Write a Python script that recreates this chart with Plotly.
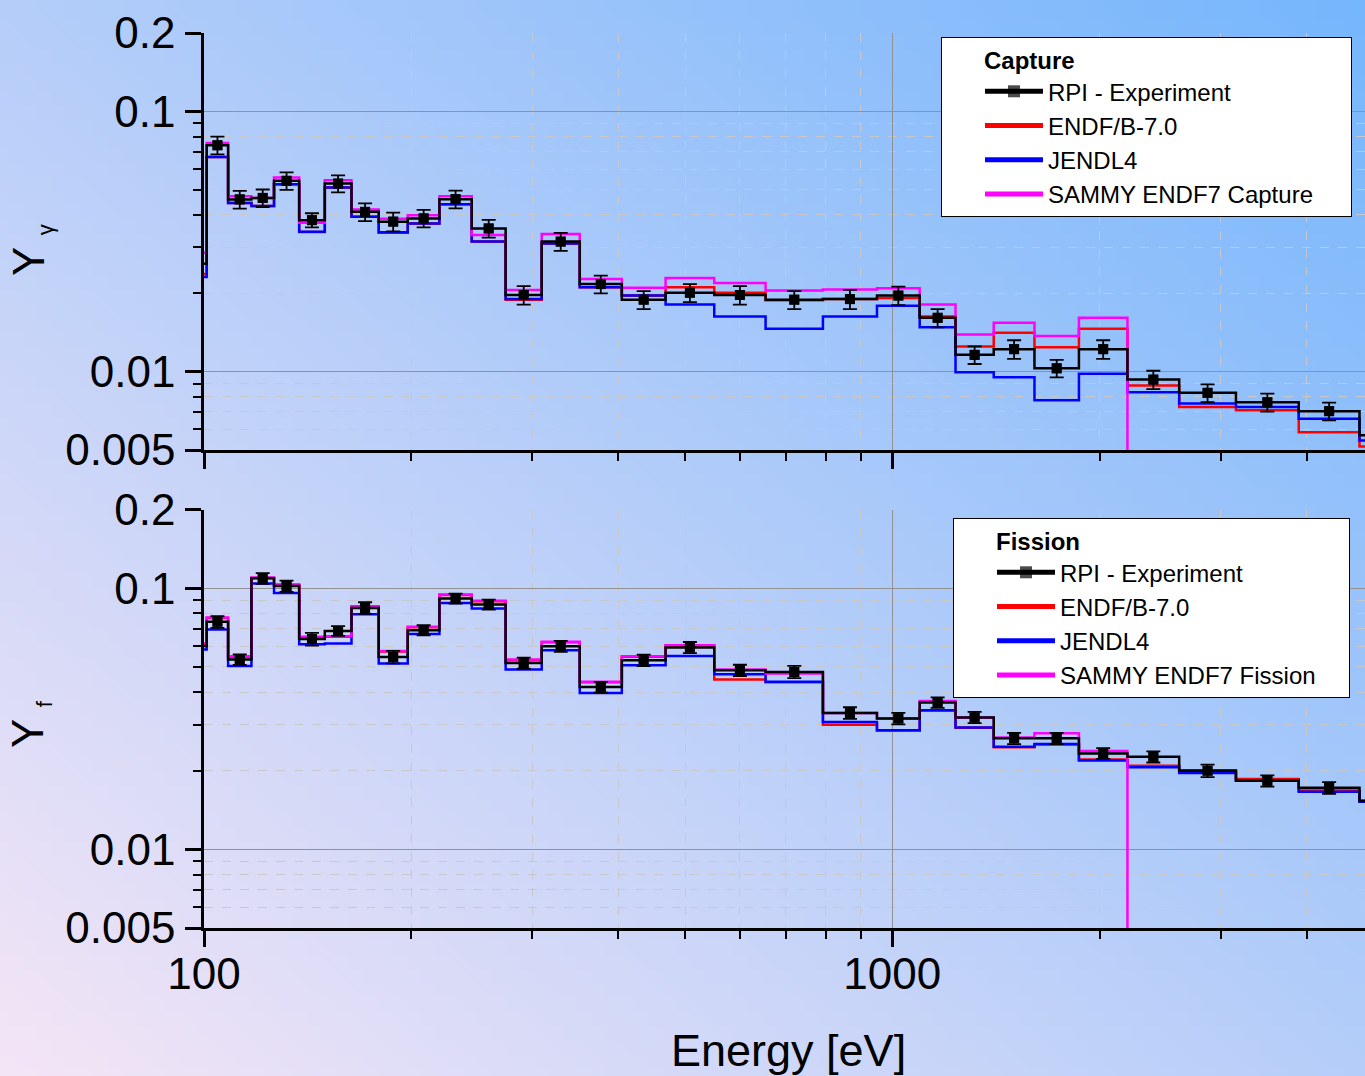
import base64
import math
import struct
import zlib
import plotly.graph_objects as go

# ---------------- data ----------------
# bin edges (eV)
edges = [100, 100.9, 108.4, 117.2, 126.4, 137.5, 149.8, 163.8, 179.4, 197.7, 219.8,
         244.9, 274.3, 309.5, 351.5, 404.6, 468.4, 551.2, 654.5, 792.9, 950.0,
         1096, 1235.5, 1404, 1609, 1867, 2196, 2611, 3157, 3895, 4773, 5800]

# experimental point energies (bin centres, bins 2..30)
exp_E = [104.6, 112.7, 121.7, 131.8, 143.5, 156.6, 171.4, 188.3, 208.5, 232.0,
         259.2, 291.4, 329.8, 377.1, 435.3, 508.1, 600.6, 720.4, 867.9, 1020.4,
         1163.7, 1317.1, 1503.0, 1733.2, 2024.8, 2394.6, 2871.0, 3506.6, 4311.7]

# ---- Capture ----
cap_exp = [0.0741, 0.0459, 0.0465, 0.0541, 0.0382, 0.0528, 0.0411, 0.0377, 0.0388, 0.0460,
           0.0355, 0.0197, 0.0316, 0.0217, 0.0189, 0.0201, 0.0197, 0.0189, 0.0190, 0.0196,
           0.0161, 0.0116, 0.0122, 0.0103, 0.0122, 0.00932, 0.00829, 0.00763, 0.00705]
cap_err = [0.0058, 0.0036, 0.0036, 0.0042, 0.0024, 0.0040, 0.0032, 0.0031, 0.0030, 0.0036,
           0.0028, 0.0016, 0.0025, 0.0017, 0.0015, 0.0016, 0.0016, 0.0015, 0.0016, 0.0016,
           0.0013, 0.0009, 0.0010, 0.0008, 0.0010, 0.00076, 0.00065, 0.00061, 0.00055]
cap_rpi_first = 0.026
cap_rpi_last = 0.0057
cap_endf = [0.0237, 0.0668, 0.0445, 0.0433, 0.0525, 0.0344, 0.0510, 0.0394, 0.0342, 0.0371,
            0.0440, 0.0316, 0.0189, 0.0311, 0.0211, 0.0196, 0.0211, 0.0201, 0.0188, 0.0190,
            0.0192, 0.0163, 0.0125, 0.0141, 0.0124, 0.0146, 0.00884, 0.00732, 0.00711,
            0.00585, 0.00516]
cap_jendl = [0.0231, 0.0668, 0.0445, 0.0433, 0.0525, 0.0345, 0.0510, 0.0394, 0.0343, 0.0371,
             0.0440, 0.0316, 0.0190, 0.0311, 0.0211, 0.0196, 0.0181, 0.0163, 0.0146, 0.0163,
             0.0179, 0.0148, 0.00994, 0.00951, 0.00776, 0.00982, 0.00833, 0.00754, 0.00732,
             0.00659, 0.00544]
cap_sammy = [0.0286, 0.0756, 0.0472, 0.0465, 0.0557, 0.0373, 0.0544, 0.0420, 0.0387, 0.0399,
             0.0472, 0.0335, 0.0206, 0.0338, 0.0227, 0.0210, 0.0229, 0.0219, 0.0205, 0.0207,
             0.0209, 0.0181, 0.0139, 0.0154, 0.0137, 0.0161]

# ---- Fission ----
fis_exp = [0.0743, 0.0533, 0.1090, 0.1018, 0.0638, 0.0686, 0.0840, 0.0545, 0.0690, 0.0913,
           0.0866, 0.0517, 0.0599, 0.0418, 0.0530, 0.0593, 0.0485, 0.0478, 0.0333, 0.0317,
           0.0365, 0.0320, 0.0266, 0.0266, 0.0233, 0.0226, 0.0200, 0.0183, 0.0172]
fis_err = [0.0039, 0.0025, 0.0052, 0.0050, 0.0036, 0.0030, 0.0043, 0.0030, 0.0031, 0.0040,
           0.0038, 0.0025, 0.0029, 0.0020, 0.0027, 0.0029, 0.0024, 0.0026, 0.0017, 0.0016,
           0.0017, 0.0016, 0.0013, 0.0013, 0.0011, 0.0011, 0.0011, 0.0009, 0.0009]
fis_rpi_first = 0.0600
fis_rpi_last = 0.0153
fis_endf = [0.0610, 0.0768, 0.0546, 0.1094, 0.1028, 0.0648, 0.0652, 0.0849, 0.0572, 0.0708,
            0.0941, 0.0890, 0.0530, 0.0620, 0.0436, 0.0546, 0.0602, 0.0447, 0.0436, 0.0300,
            0.0285, 0.0340, 0.0292, 0.0246, 0.0252, 0.0221, 0.0209, 0.0201, 0.0186, 0.0168,
            0.0154]
fis_jendl = [0.0582, 0.0695, 0.0503, 0.1042, 0.0959, 0.0610, 0.0614, 0.0795, 0.0515, 0.0667,
             0.0878, 0.0836, 0.0488, 0.0579, 0.0397, 0.0507, 0.0550, 0.0468, 0.0438, 0.0307,
             0.0286, 0.0341, 0.0293, 0.0247, 0.0253, 0.0219, 0.0206, 0.0196, 0.0184, 0.0166,
             0.0152]
fis_sammy = [0.0614, 0.0772, 0.0549, 0.1099, 0.1033, 0.0651, 0.0655, 0.0853, 0.0575, 0.0711,
             0.0946, 0.0894, 0.0533, 0.0623, 0.0438, 0.0549, 0.0605, 0.0488, 0.0471, 0.0333,
             0.0317, 0.0370, 0.0320, 0.0268, 0.0278, 0.0238]

x_major = [100, 1000]
x_major_text = ["100", "1000"]
x_minor = [200, 300, 400, 500, 600, 700, 800, 900, 2000, 3000, 4000]
y_major = [0.005, 0.01, 0.1, 0.2]
y_major_text = ["0.005", "0.01", "0.1", "0.2"]
y_minor = [0.006, 0.007, 0.008, 0.009, 0.02, 0.03, 0.04, 0.05, 0.06, 0.07, 0.08, 0.09]

# ---------------- figure geometry ----------------
W, H = 1365, 1076
ML, MR, MT, MB = 204, 0, 33, 148
PW, PH = W - ML - MR, H - MT - MB
FONT = "Arial, Liberation Sans, Helvetica, sans-serif"


def gradient_uri(w=96, h=76):
    c0 = (244, 229, 246)   # bottom-left
    c1 = (118, 182, 252)   # top-right
    raw = bytearray()
    for j in range(h):
        raw.append(0)
        fy = 1 - j / (h - 1)
        for i in range(w):
            fx = i / (w - 1)
            t = (fx + fy) / 2
            for k in range(3):
                raw.append(int(round(c0[k] + (c1[k] - c0[k]) * t)))

    def chunk(tag, data):
        return (struct.pack(">I", len(data)) + tag + data +
                struct.pack(">I", zlib.crc32(tag + data) & 0xFFFFFFFF))

    png = (b"\x89PNG\r\n\x1a\n" +
           chunk(b"IHDR", struct.pack(">IIBBBBB", w, h, 8, 2, 0, 0, 0)) +
           chunk(b"IDAT", zlib.compress(bytes(raw))) +
           chunk(b"IEND", b""))
    return "data:image/png;base64," + base64.b64encode(png).decode()


def step(vals, drop=False):
    n = len(vals)
    xs = list(edges[:n]) + [edges[n]]
    ys = list(vals) + ([1e-6] if drop else [vals[-1]])
    return xs, ys


def rpi_traces(first, pts, err, last, xa, ya, leg):
    line_vals = [first] + list(pts) + [last]
    xs, ys, sz = [], [], []
    for i, v in enumerate(line_vals):
        xs.append(edges[i]); ys.append(v); sz.append(0)
        if 1 <= i <= len(pts):
            xs.append(exp_E[i - 1]); ys.append(pts[i - 1]); sz.append(10)
    xs.append(edges[len(line_vals)]); ys.append(line_vals[-1]); sz.append(0)
    line_tr = go.Scatter(x=xs, y=ys, mode="lines+markers",
                         line=dict(color="black", width=2.5, shape="hv"),
                         marker=dict(symbol="square", size=sz, color="black", line=dict(width=0)),
                         name="RPI - Experiment", legend=leg, legendrank=1, xaxis=xa, yaxis=ya)
    pts_tr = go.Scatter(x=exp_E, y=pts, mode="markers",
                        marker=dict(symbol="square", size=10, color="black", line=dict(width=0)),
                        error_y=dict(type="data", array=err, visible=True, color="black",
                                     thickness=1.8, width=7),
                        showlegend=False, legend=leg, xaxis=xa, yaxis=ya)
    return [line_tr, pts_tr]


fig = go.Figure()

for xa, ya, leg, endf, jendl, sammy, sname, rf, pts, err, rl in [
        ("x2", "y2", "legend", cap_endf, cap_jendl, cap_sammy, "SAMMY ENDF7 Capture",
         cap_rpi_first, cap_exp, cap_err, cap_rpi_last),
        ("x", "y", "legend2", fis_endf, fis_jendl, fis_sammy, "SAMMY ENDF7 Fission",
         fis_rpi_first, fis_exp, fis_err, fis_rpi_last)]:
    x1, y1 = step(endf)
    fig.add_trace(go.Scatter(x=x1, y=y1, mode="lines", line=dict(color="#ff0000", width=2.5, shape="hv"),
                             name="ENDF/B-7.0", legend=leg, legendrank=2, xaxis=xa, yaxis=ya))
    x2, y2 = step(jendl)
    fig.add_trace(go.Scatter(x=x2, y=y2, mode="lines", line=dict(color="#0000ff", width=2.5, shape="hv"),
                             name="JENDL4", legend=leg, legendrank=3, xaxis=xa, yaxis=ya))
    x3, y3 = step(sammy, drop=True)
    fig.add_trace(go.Scatter(x=x3, y=y3, mode="lines", line=dict(color="#ff00ff", width=2.5, shape="hv"),
                             name=sname, legend=leg, legendrank=4, xaxis=xa, yaxis=ya))
    for tr in rpi_traces(rf, pts, err, rl, xa, ya, leg):
        fig.add_trace(tr)

xr = [2, 2 + (W - ML) / 688.3]
yr = [math.log10(0.005), math.log10(0.2)]

top_lo = (H - MB - 450) / PH
bot_hi = (H - MB - 509.5) / PH


def xaxis(anchor, labels):
    return dict(type="log", range=xr, domain=[0, 1], anchor=anchor,
                showline=True, linecolor="black", linewidth=2.5, mirror=False,
                ticks="outside", ticklen=16, tickwidth=2.5, tickcolor="black",
                tickmode="array", tickvals=x_major, ticktext=x_major_text,
                showticklabels=labels, tickfont=dict(size=44, color="black", family=FONT),
                ticklabelstandoff=-11,
                showgrid=True, gridcolor="#929292", gridwidth=1, zeroline=False,
                minor=dict(tickmode="array", tickvals=x_minor, ticks="outside", ticklen=8,
                           tickwidth=2, tickcolor="black", showgrid=True,
                           gridcolor="#c8c8cc", griddash="dash", gridwidth=1))


def xaxis_top(over, anchor):
    return dict(type="log", range=xr, domain=[0, 1], anchor=anchor, overlaying=over, side="top",
                showline=True, linecolor="black", linewidth=2.5,
                ticks="inside", ticklen=14, tickwidth=2.5, tickcolor="black",
                tickmode="array", tickvals=x_major, showticklabels=False,
                showgrid=False, zeroline=False,
                minor=dict(tickmode="array", tickvals=x_minor, ticks="inside", ticklen=6,
                           tickwidth=2, tickcolor="black", showgrid=False))


def yaxis(domain, anchor):
    return dict(type="log", range=yr, domain=domain, anchor=anchor,
                showline=True, linecolor="black", linewidth=2.5,
                ticks="outside", ticklen=16, tickwidth=2.5, tickcolor="black",
                tickmode="array", tickvals=y_major, ticktext=y_major_text,
                tickfont=dict(size=44, color="black", family=FONT), ticklabelstandoff=1,
                showgrid=True, gridcolor="#929292", gridwidth=1, zeroline=False,
                minor=dict(tickmode="array", tickvals=y_minor, ticks="outside", ticklen=8,
                           tickwidth=2, tickcolor="black", showgrid=True,
                           gridcolor="#c8c8cc", griddash="dash", gridwidth=1))


def yaxis_right(domain, over, anchor):
    return dict(type="log", range=yr, domain=domain, anchor=anchor, overlaying=over, side="right",
                showline=False, ticks="inside", ticklen=12, tickwidth=2.5, tickcolor="black",
                tickmode="array", tickvals=y_major, showticklabels=False,
                showgrid=False, zeroline=False,
                minor=dict(tickmode="array", tickvals=y_minor, ticks="inside", ticklen=5,
                           tickwidth=2, tickcolor="black", showgrid=False))


NB = "\u00a0"
leg_common = dict(xref="paper", yref="paper", xanchor="left", yanchor="top",
                  bgcolor="white", bordercolor="black", borderwidth=1,
                  font=dict(size=24, color="black", family=FONT),
                  itemsizing="constant", tracegroupgap=0, indentation=38, itemwidth=58)

fig.update_layout(
    width=W, height=H,
    margin=dict(l=ML, r=MR, t=MT, b=MB, pad=0),
    paper_bgcolor="#b5cdf5", plot_bgcolor="rgba(0,0,0,0)",
    font=dict(family=FONT, color="black"),
    xaxis=xaxis("y", True),
    xaxis2=xaxis("y2", False),
    xaxis3=xaxis_top("x", "y"),
    xaxis4=xaxis_top("x2", "y2"),
    yaxis=yaxis([0, bot_hi], "x"),
    yaxis2=yaxis([top_lo, 1], "x2"),
    yaxis3=yaxis_right([0, bot_hi], "y", "x"),
    yaxis4=yaxis_right([top_lo, 1], "y2", "x2"),
    legend=dict(leg_common, x=(941 - ML) / PW, y=(H - MB - 37) / PH,
                title=dict(text=NB * 6 + "<b>Capture</b>" + NB * 41,
                           font=dict(size=24, family=FONT))),
    legend2=dict(leg_common, x=(953 - ML) / PW, y=(H - MB - 518) / PH,
                 title=dict(text=NB * 6 + "<b>Fission</b>" + NB * 40,
                            font=dict(size=24, family=FONT))),
    showlegend=True,
    images=[dict(source=gradient_uri(), xref="paper", yref="paper",
                 x=-ML / PW, y=1 + MT / PH, sizex=W / PW, sizey=H / PH,
                 xanchor="left", yanchor="top", sizing="stretch", layer="below")],
    annotations=[
        dict(text="Energy [eV]", xref="paper", yref="paper", x=(788 - ML) / PW,
             y=(H - MB - 1050) / PH, xanchor="center", yanchor="middle", showarrow=False,
             font=dict(size=45, color="black", family=FONT)),
        dict(text="Y <sub><span style='font-size:22px'>γ</span></sub>", xref="paper", yref="paper",
             x=(31 - ML) / PW, y=(H - MB - 250) / PH, xanchor="center", yanchor="middle",
             showarrow=False, textangle=-90, font=dict(size=44, color="black", family=FONT)),
        dict(text="Y <sub><span style='font-size:22px'>f</span></sub>", xref="paper", yref="paper",
             x=(30 - ML) / PW, y=(H - MB - 724) / PH, xanchor="center", yanchor="middle",
             showarrow=False, textangle=-90, font=dict(size=44, color="black", family=FONT)),
    ],
)

fig.write_html("out.html")
